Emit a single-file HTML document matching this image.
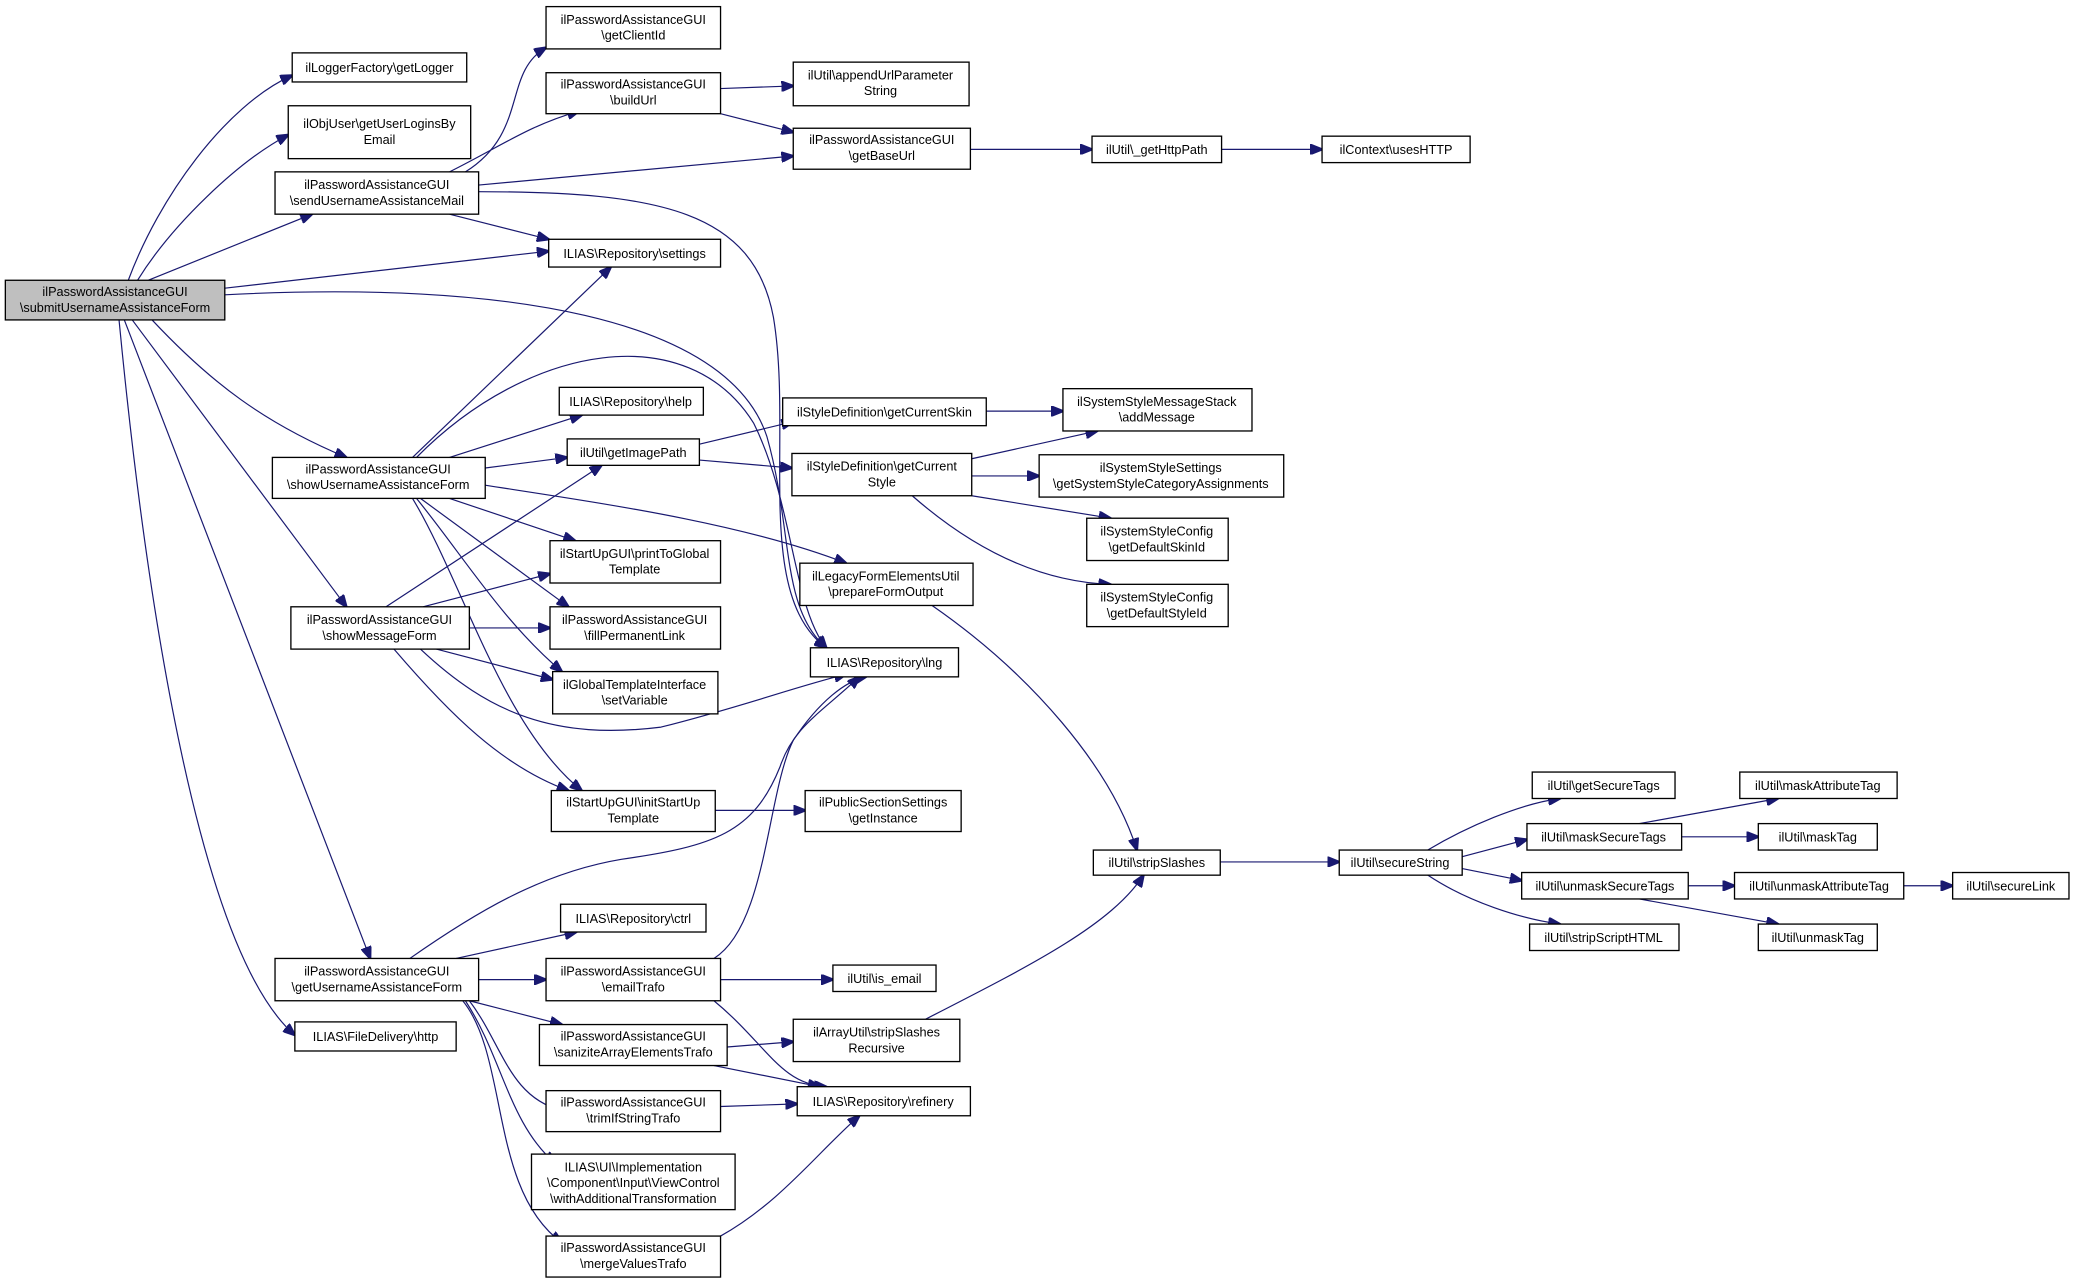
<!DOCTYPE html>
<html><head><meta charset="utf-8"><style>
html,body{margin:0;padding:0;background:#fff;}
svg{display:block;}
text{font-family:"Liberation Sans",sans-serif;font-size:9.6px;fill:#000;text-anchor:middle;}
.n{fill:#fff;stroke:#000;stroke-width:1;}
.e{fill:none;stroke:#191970;stroke-width:0.9;}
</style></head><body>
<svg width="2073" height="1283" viewBox="0 0 1568 970.5" xmlns="http://www.w3.org/2000/svg">
<defs><marker id="a" markerWidth="10" markerHeight="8" refX="9" refY="4" orient="auto" markerUnits="userSpaceOnUse"><path d="M0,0 L10,4 L0,8 z" fill="#191970" stroke="#191970"/></marker></defs>
<g marker-end="url(#a)">
<path class="e" d="M97,212 C120,150 170,80 221,57"/>
<path class="e" d="M104,212 C130,170 180,122 218,102"/>
<path class="e" d="M112,212 L236,162"/>
<path class="e" d="M170,218 L415,190"/>
<path class="e" d="M170,223 C380,212 550,240 580,330 C600,400 590,460 625,490"/>
<path class="e" d="M115,242 C160,290 200,320 262,346"/>
<path class="e" d="M100,242 L262,459"/>
<path class="e" d="M94,242 L280,725"/>
<path class="e" d="M90,242 C110,450 150,720 223,783"/>
<path class="e" d="M352,130 C400,100 380,55 413,36"/>
<path class="e" d="M340,130 C380,110 400,95 438,84"/>
<path class="e" d="M362,140 L600,118"/>
<path class="e" d="M340,162 L415,181"/>
<path class="e" d="M362,145 C500,145 570,160 585,240 C600,330 570,450 625,490"/>
<path class="e" d="M545,67 L600,65"/>
<path class="e" d="M545,86 L600,100"/>
<path class="e" d="M734,113 L826,113"/>
<path class="e" d="M924,113 L1000,113"/>
<path class="e" d="M312,346 L462,202"/>
<path class="e" d="M315,346 C400,260 520,240 570,320 C600,380 600,460 625,490"/>
<path class="e" d="M340,346 L440,314"/>
<path class="e" d="M367,354 L429,346"/>
<path class="e" d="M367,367 C450,380 560,395 640,426"/>
<path class="e" d="M340,377 L435,409"/>
<path class="e" d="M318,377 L430,459"/>
<path class="e" d="M315,377 C350,420 380,470 425,508"/>
<path class="e" d="M312,377 C350,440 380,550 440,598"/>
<path class="e" d="M292,459 L455,352"/>
<path class="e" d="M320,459 L416,434"/>
<path class="e" d="M355,475 L416,475"/>
<path class="e" d="M330,491 L418,514"/>
<path class="e" d="M318,491 C370,540 420,560 500,550 C560,535 600,520 640,510"/>
<path class="e" d="M298,491 C340,540 380,580 430,598"/>
<path class="e" d="M529,336 L600,319"/>
<path class="e" d="M529,348 L599,354"/>
<path class="e" d="M746,311 L804,311"/>
<path class="e" d="M735,347 L830,326"/>
<path class="e" d="M735,360 L786,360"/>
<path class="e" d="M735,375 L840,392"/>
<path class="e" d="M690,375 C730,410 780,440 840,442"/>
<path class="e" d="M705,458 C780,510 840,580 860,643"/>
<path class="e" d="M541,613 L609,613"/>
<path class="e" d="M310,725 C360,690 410,660 470,650 C540,640 570,630 590,580 C600,550 620,540 650,512"/>
<path class="e" d="M345,725 L436,705"/>
<path class="e" d="M362,741 L413,741"/>
<path class="e" d="M355,757 L425,775"/>
<path class="e" d="M355,757 C380,790 385,830 425,840"/>
<path class="e" d="M352,757 C380,800 385,850 420,880"/>
<path class="e" d="M350,757 C385,800 370,900 425,940"/>
<path class="e" d="M540,725 C580,700 580,600 600,560 C620,530 640,515 655,512"/>
<path class="e" d="M545,741 L630,741"/>
<path class="e" d="M540,757 C580,790 590,820 625,822"/>
<path class="e" d="M550,792 L600,788"/>
<path class="e" d="M540,806 L620,822"/>
<path class="e" d="M545,837 L603,835"/>
<path class="e" d="M545,935 C590,910 620,870 650,844"/>
<path class="e" d="M700,771 C780,730 840,700 865,662"/>
<path class="e" d="M923,652 L1013,652"/>
<path class="e" d="M1080,643 C1110,625 1150,608 1180,604"/>
<path class="e" d="M1106,648 L1155,635"/>
<path class="e" d="M1106,657 L1151,666"/>
<path class="e" d="M1080,662 C1110,682 1150,695 1180,699"/>
<path class="e" d="M1240,623 L1345,604"/>
<path class="e" d="M1272,633 L1330,633"/>
<path class="e" d="M1277,670 L1312,670"/>
<path class="e" d="M1240,680 L1345,699"/>
<path class="e" d="M1440,670 L1477,670"/>
</g>
<rect x="4" y="212" width="166" height="30" fill="#bfbfbf" stroke="#000"/>
<text x="87" y="224">ilPasswordAssistanceGUI</text><text x="87" y="236">\submitUsernameAssistanceForm</text>
<rect class="n" x="221" y="40" width="132" height="22"/><text x="287" y="54.5">ilLoggerFactory\getLogger</text>
<rect class="n" x="218" y="80" width="138" height="40"/><text x="287" y="97">ilObjUser\getUserLoginsBy</text><text x="287" y="109">Email</text>
<rect class="n" x="208" y="130" width="154" height="32"/><text x="285" y="143">ilPasswordAssistanceGUI</text><text x="285" y="155">\sendUsernameAssistanceMail</text>
<rect class="n" x="413" y="5" width="132" height="32"/><text x="479" y="18">ilPasswordAssistanceGUI</text><text x="479" y="30">\getClientId</text>
<rect class="n" x="413" y="55" width="132" height="31"/><text x="479" y="67">ilPasswordAssistanceGUI</text><text x="479" y="79">\buildUrl</text>
<rect class="n" x="600" y="47" width="133" height="33"/><text x="666" y="60">ilUtil\appendUrlParameter</text><text x="666" y="72">String</text>
<rect class="n" x="600" y="97" width="134" height="31"/><text x="667" y="109">ilPasswordAssistanceGUI</text><text x="667" y="121">\getBaseUrl</text>
<rect class="n" x="826" y="103" width="98" height="20"/><text x="875" y="116.5">ilUtil\_getHttpPath</text>
<rect class="n" x="1000" y="103" width="112" height="20"/><text x="1056" y="116.5">ilContext\usesHTTP</text>
<rect class="n" x="415" y="181" width="130" height="21"/><text x="480" y="195">ILIAS\Repository\settings</text>
<rect class="n" x="423" y="293" width="109" height="21"/><text x="477" y="307">ILIAS\Repository\help</text>
<rect class="n" x="429" y="332" width="100" height="20"/><text x="479" y="345.5">ilUtil\getImagePath</text>
<rect class="n" x="206" y="346" width="161" height="31"/><text x="286" y="358">ilPasswordAssistanceGUI</text><text x="286" y="370">\showUsernameAssistanceForm</text>
<rect class="n" x="592" y="301" width="154" height="21"/><text x="669" y="315">ilStyleDefinition\getCurrentSkin</text>
<rect class="n" x="599" y="343" width="136" height="32"/><text x="667" y="356">ilStyleDefinition\getCurrent</text><text x="667" y="368">Style</text>
<rect class="n" x="804" y="294" width="143" height="32"/><text x="875" y="307">ilSystemStyleMessageStack</text><text x="875" y="319">\addMessage</text>
<rect class="n" x="786" y="344" width="185" height="32"/><text x="878" y="357">ilSystemStyleSettings</text><text x="878" y="369">\getSystemStyleCategoryAssignments</text>
<rect class="n" x="822" y="392" width="107" height="32"/><text x="875" y="405">ilSystemStyleConfig</text><text x="875" y="417">\getDefaultSkinId</text>
<rect class="n" x="822" y="442" width="107" height="32"/><text x="875" y="455">ilSystemStyleConfig</text><text x="875" y="467">\getDefaultStyleId</text>
<rect class="n" x="416" y="409" width="129" height="32"/><text x="480" y="422">ilStartUpGUI\printToGlobal</text><text x="480" y="434">Template</text>
<rect class="n" x="220" y="459" width="135" height="32"/><text x="287" y="472">ilPasswordAssistanceGUI</text><text x="287" y="484">\showMessageForm</text>
<rect class="n" x="416" y="459" width="129" height="32"/><text x="480" y="472">ilPasswordAssistanceGUI</text><text x="480" y="484">\fillPermanentLink</text>
<rect class="n" x="605" y="426" width="131" height="32"/><text x="670" y="439">ilLegacyFormElementsUtil</text><text x="670" y="451">\prepareFormOutput</text>
<rect class="n" x="613" y="490" width="112" height="22"/><text x="669" y="504.5">ILIAS\Repository\lng</text>
<rect class="n" x="418" y="508" width="125" height="32"/><text x="480" y="521">ilGlobalTemplateInterface</text><text x="480" y="533">\setVariable</text>
<rect class="n" x="417" y="598" width="124" height="31"/><text x="479" y="610">ilStartUpGUI\initStartUp</text><text x="479" y="622">Template</text>
<rect class="n" x="609" y="598" width="118" height="31"/><text x="668" y="610">ilPublicSectionSettings</text><text x="668" y="622">\getInstance</text>
<rect class="n" x="827" y="643" width="96" height="19"/><text x="875" y="656">ilUtil\stripSlashes</text>
<rect class="n" x="1013" y="643" width="93" height="19"/><text x="1059" y="656">ilUtil\secureString</text>
<rect class="n" x="1159" y="584" width="108" height="20"/><text x="1213" y="597.5">ilUtil\getSecureTags</text>
<rect class="n" x="1155" y="623" width="117" height="20"/><text x="1213" y="636.5">ilUtil\maskSecureTags</text>
<rect class="n" x="1151" y="660" width="126" height="20"/><text x="1214" y="673.5">ilUtil\unmaskSecureTags</text>
<rect class="n" x="1157" y="699" width="113" height="20"/><text x="1213" y="712.5">ilUtil\stripScriptHTML</text>
<rect class="n" x="1316" y="584" width="119" height="20"/><text x="1375" y="597.5">ilUtil\maskAttributeTag</text>
<rect class="n" x="1330" y="623" width="90" height="20"/><text x="1375" y="636.5">ilUtil\maskTag</text>
<rect class="n" x="1312" y="660" width="128" height="20"/><text x="1376" y="673.5">ilUtil\unmaskAttributeTag</text>
<rect class="n" x="1330" y="699" width="90" height="20"/><text x="1375" y="712.5">ilUtil\unmaskTag</text>
<rect class="n" x="1477" y="660" width="88" height="20"/><text x="1521" y="673.5">ilUtil\secureLink</text>
<rect class="n" x="424" y="684" width="110" height="21"/><text x="479" y="698">ILIAS\Repository\ctrl</text>
<rect class="n" x="208" y="725" width="154" height="32"/><text x="285" y="738">ilPasswordAssistanceGUI</text><text x="285" y="750">\getUsernameAssistanceForm</text>
<rect class="n" x="413" y="725" width="132" height="32"/><text x="479" y="738">ilPasswordAssistanceGUI</text><text x="479" y="750">\emailTrafo</text>
<rect class="n" x="630" y="730" width="78" height="20"/><text x="669" y="743.5">ilUtil\is_email</text>
<rect class="n" x="223" y="773" width="122" height="22"/><text x="284" y="787.5">ILIAS\FileDelivery\http</text>
<rect class="n" x="408" y="775" width="142" height="31"/><text x="479" y="787">ilPasswordAssistanceGUI</text><text x="479" y="799">\saniziteArrayElementsTrafo</text>
<rect class="n" x="600" y="771" width="126" height="32"/><text x="663" y="784">ilArrayUtil\stripSlashes</text><text x="663" y="796">Recursive</text>
<rect class="n" x="413" y="825" width="132" height="31"/><text x="479" y="837">ilPasswordAssistanceGUI</text><text x="479" y="849">\trimIfStringTrafo</text>
<rect class="n" x="603" y="822" width="131" height="22"/><text x="668" y="836.5">ILIAS\Repository\refinery</text>
<rect class="n" x="402" y="873" width="154" height="42"/><text x="479" y="886">ILIAS\UI\Implementation</text><text x="479" y="898">\Component\Input\ViewControl</text><text x="479" y="910">\withAdditionalTransformation</text>
<rect class="n" x="413" y="935" width="132" height="31"/><text x="479" y="947">ilPasswordAssistanceGUI</text><text x="479" y="959">\mergeValuesTrafo</text>
</svg>
</body></html>
